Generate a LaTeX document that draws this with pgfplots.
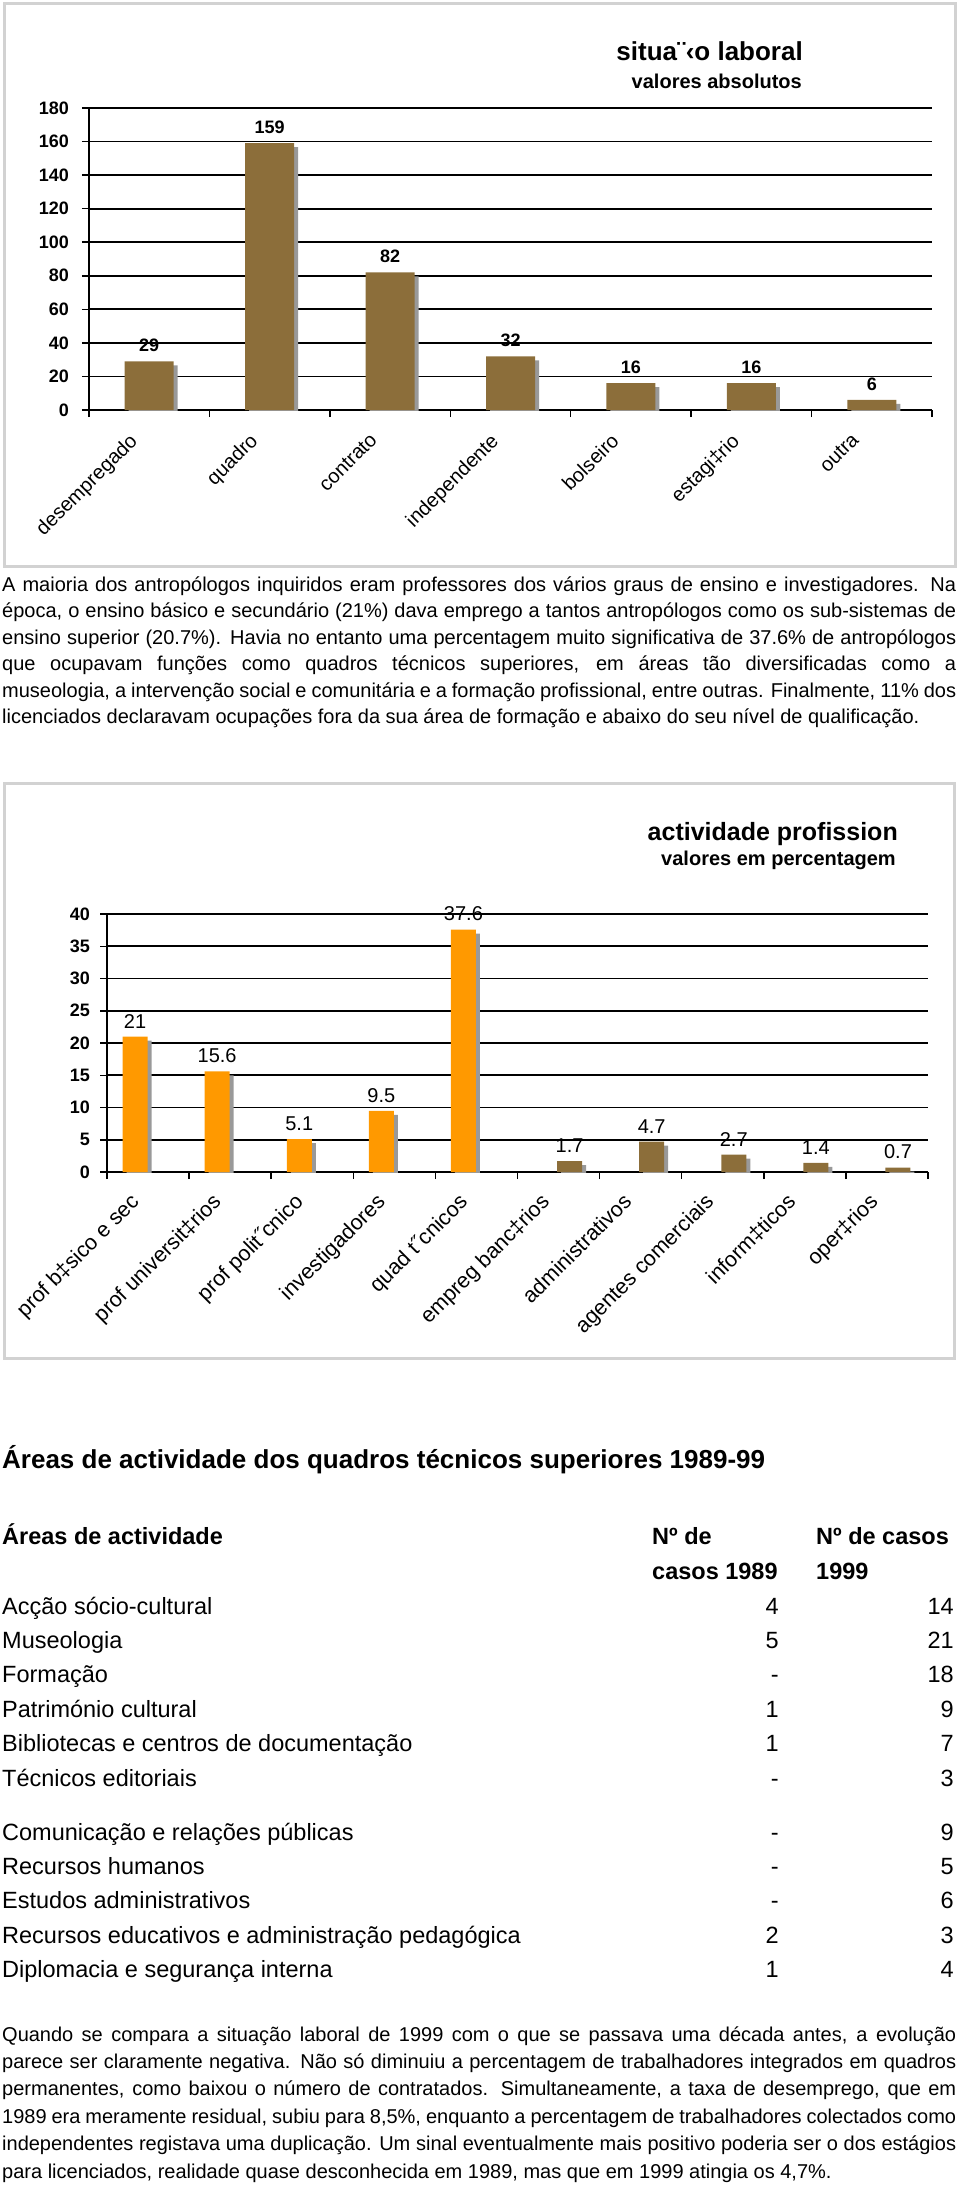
\documentclass[border=0pt]{standalone}
\usepackage{pgfplots}
\pgfplotsset{compat=1.18}
\usepackage{fontspec}
\setmainfont{Liberation Sans}
\definecolor{barbrown}{RGB}{140,110,58}
\definecolor{barorange}{RGB}{255,153,0}
\definecolor{framegray}{RGB}{210,210,210}
\newcommand\fs[1]{\fontsize{#1bp}{#1bp}\selectfont}
% one justified line of running text, baseline at y
\newcommand\jline[2]{\node[anchor=base west, inner sep=0] at (2,-#1) {\fs{20}\makebox[954bp][s]{#2}};}
\newcommand\lline[2]{\node[anchor=base west, inner sep=0] at (2,-#1) {\fs{20}#2};}
\newcommand\trow[4]{%
  \node[anchor=base west, inner sep=0] at (2,-#1) {\fs{23.5}#2};
  \node[anchor=base east, inner sep=0] at (779,-#1) {\fs{23.5}#3};
  \node[anchor=base east, inner sep=0] at (954,-#1) {\fs{23.5}#4};}

\pgfplotsset{
  pagechart/.style={
    scale only axis, anchor=south west,
    ybar, ymin=0,
    axis x line*=bottom, axis y line*=left,
    axis line style={-, black, line width=1.8bp},
    ymajorgrids, major grid style={black, line width=1.8bp},
    tick align=outside, major tick length=7bp,
    xtick pos=left, ytick pos=left,
    tick style={black, line width=1.5bp},
    /pgf/number format/assume math mode=true,
    yticklabel style={font=\fs{18}\bfseries, inner sep=2bp},
  },
}

\begin{document}
\begin{tikzpicture}[x=1bp, y=1bp]
\path[use as bounding box] (0,0) rectangle (960,-2201);

% ---------- chart 1 ----------
\draw[framegray, line width=3bp] (4,-4) rectangle (955,-566);
\node[anchor=base east, inner sep=0] at (803,-61) {\fs{26}\bfseries situa¨‹o laboral};
\node[anchor=base east, inner sep=0] at (802,-89) {\fs{20}\bfseries valores absolutos};

% ticks sit on the category borders; each label is moved to its bar
\begin{axis}[pagechart,
  at={(89bp,-410bp)}, width=843bp, height=302bp,
  ymax=180, ytick={0,20,...,180},
  yticklabel style={xshift=-11bp},
  xmin=-0.5, xmax=6.5, bar width=49bp,
  xtick={-0.5,0.5,...,6.5},
  xticklabels={desempregado,quadro,contrato,independente,bolseiro,estagi‡rio,outra,{}},
  xticklabel style={font=\fs{20}, xshift=39bp, yshift=-12bp, rotate=45, anchor=north east, inner sep=2bp},
]
\addplot[fill=gray!80, draw=none, bar shift=4bp, yshift=-4bp] coordinates {
  (0,29) (1,159) (2,82) (3,32) (4,16) (5,16) (6,6)};
\addplot[fill=barbrown, draw=none, bar shift=0bp,
  nodes near coords, point meta=explicit symbolic,
  every node near coord/.append style={font=\fs{18}\bfseries, anchor=south, yshift=6bp}]
  coordinates {
  (0,29) [29] (1,159) [159] (2,82) [82] (3,32) [32] (4,16) [16] (5,16) [16] (6,6) [6]};
\end{axis}

% ---------- paragraph 1 ----------
\jline{591}{A maioria dos antropólogos inquiridos eram professores dos vários graus de ensino e investigadores. Na}
\jline{617.5}{época, o ensino básico e secundário (21\%) dava emprego a tantos antropólogos como os sub-sistemas de}
\jline{644}{ensino superior (20.7\%). Havia no entanto uma percentagem muito significativa de 37.6\% de antropólogos}
\jline{670.5}{que ocupavam funções como quadros técnicos superiores, em áreas tão diversificadas como a}
\jline{697}{museologia, a intervenção social e comunitária e a formação profissional, entre outras. Finalmente, 11\% dos}
\lline{723.5}{licenciados declaravam ocupações fora da sua área de formação e abaixo do seu nível de qualificação.}

% ---------- chart 2 ----------
\draw[framegray, line width=3bp] (4,-783) rectangle (954,-1358);
\node[anchor=base east, inner sep=0] at (898,-840) {\fs{25}\bfseries actividade profission};
\node[anchor=base east, inner sep=0] at (896,-865) {\fs{20}\bfseries valores em percentagem};

\begin{axis}[pagechart,
  at={(107bp,-1172bp)}, width=821bp, height=258bp,
  ymax=40, ytick={0,5,...,40},
  yticklabel style={xshift=-8bp},
  xmin=-0.5, xmax=9.5, bar width=25bp,
  xtick={-0.5,0.5,...,9.5},
  xticklabels={prof b‡sico e sec,prof universit‡rios,prof polit˝cnico,investigadores,quad t˝cnicos,
    empreg banc‡rios,administrativos,agentes comerciais,inform‡ticos,oper‡rios,{}},
  xticklabel style={font=\fs{21.5}, xshift=22bp, yshift=-10bp, rotate=45, anchor=north east, inner sep=2bp},
]
\addplot[fill=gray!80, draw=none, bar shift=-9bp, yshift=-4bp] coordinates {
  (0,21) (1,15.6) (2,5.1) (3,9.5) (4,37.6)};
\addplot[fill=gray!80, draw=none, bar shift=15bp, yshift=-4bp] coordinates {
  (5,1.7) (6,4.7) (7,2.7) (8,1.4) (9,0.7)};
\addplot[fill=barorange, draw=none, bar shift=-13bp,
  nodes near coords, point meta=explicit symbolic,
  every node near coord/.append style={font=\fs{20}, anchor=south, yshift=5bp}]
  coordinates {(0,21) [21] (1,15.6) [15.6] (2,5.1) [5.1] (3,9.5) [9.5] (4,37.6) [37.6]};
\addplot[fill=barbrown, draw=none, bar shift=11bp,
  nodes near coords, point meta=explicit symbolic,
  every node near coord/.append style={font=\fs{20}, anchor=south, yshift=5bp}]
  coordinates {(5,1.7) [1.7] (6,4.7) [4.7] (7,2.7) [2.7] (8,1.4) [1.4] (9,0.7) [0.7]};
\end{axis}

% ---------- table ----------
\node[anchor=base west, inner sep=0] at (2,-1468) {\fs{26}\bfseries Áreas de actividade dos quadros técnicos superiores 1989-99};
\node[anchor=base west, inner sep=0] at (2,-1544) {\fs{23.5}\bfseries Áreas de actividade};
\node[anchor=base west, inner sep=0] at (652,-1544) {\fs{23.5}\bfseries Nº de};
\node[anchor=base west, inner sep=0] at (652,-1579) {\fs{23.5}\bfseries casos 1989};
\node[anchor=base west, inner sep=0] at (816,-1544) {\fs{23.5}\bfseries Nº de casos};
\node[anchor=base west, inner sep=0] at (816,-1579) {\fs{23.5}\bfseries 1999};
\trow{1614}{Acção sócio-cultural}{4}{14}
\trow{1648.4}{Museologia}{5}{21}
\trow{1682.8}{Formação}{-}{18}
\trow{1717.2}{Património cultural}{1}{9}
\trow{1751.6}{Bibliotecas e centros de documentação}{1}{7}
\trow{1786}{Técnicos editoriais}{-}{3}
\trow{1840}{Comunicação e relações públicas}{-}{9}
\trow{1874.4}{Recursos humanos}{-}{5}
\trow{1908.8}{Estudos administrativos}{-}{6}
\trow{1943.2}{Recursos educativos e administração pedagógica}{2}{3}
\trow{1977.6}{Diplomacia e segurança interna}{1}{4}

% ---------- paragraph 2 ----------
\jline{2041}{Quando se compara a situação laboral de 1999 com o que se passava uma década antes, a evolução}
\jline{2068.4}{parece ser claramente negativa. Não só diminuiu a percentagem de trabalhadores integrados em quadros}
\jline{2095.8}{permanentes, como baixou o número de contratados. Simultaneamente, a taxa de desemprego, que em}
\jline{2123.2}{1989 era meramente residual, subiu para 8,5\%, enquanto a percentagem de trabalhadores colectados como}
\jline{2150.6}{independentes registava uma duplicação. Um sinal eventualmente mais positivo poderia ser o dos estágios}
\lline{2178}{para licenciados, realidade quase desconhecida em 1989, mas que em 1999 atingia os 4,7\%.}
\end{tikzpicture}
\end{document}
